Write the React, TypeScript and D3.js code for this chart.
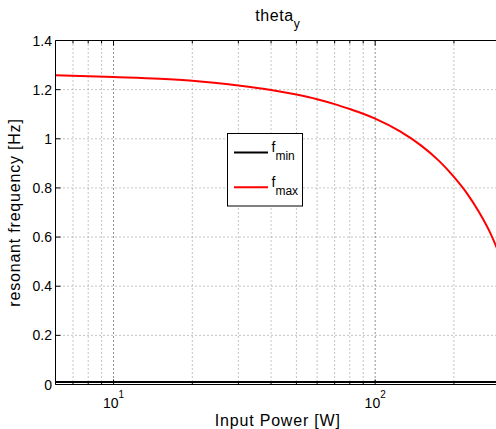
import React from "react";
import * as d3 from "d3";

const powerW = [6, 10, 15, 20, 30, 40, 50, 60, 70, 80, 90, 100, 125, 150, 175, 200, 225, 250, 275, 289, 300];
const fMax = [1.259, 1.251, 1.244, 1.236, 1.217, 1.199, 1.180, 1.161, 1.141, 1.121, 1.102, 1.082, 1.029, 0.972, 0.911, 0.845, 0.776, 0.700, 0.618, 0.566, 0.522];
const fMin = [0.01, 0.01];
const fMinX = [6, 300];
const yTicks = [0, 0.2, 0.4, 0.6, 0.8, 1, 1.2, 1.4];
const yTickLabels = ["0", "0.2", "0.4", "0.6", "0.8", "1", "1.2", "1.4"];
const xMajor = [10, 100];
const xMajorExp = ["1", "2"];
const xMinor = [7, 8, 9, 20, 30, 40, 50, 60, 70, 80, 90, 200, 300];
const legendNames = ["min", "max"];
const colors = ["#000000", "#ff0000"];

const W = 496, H = 429;
const L = 55.5, T = 40.5, R = 500, B = 384.5;

export default function App() {
  const x = d3.scaleLog().domain([6, 300]).range([L, R]);
  const y = d3.scaleLinear().domain([0, 1.4]).range([B, T]);
  const line = d3.line<[number, number]>().x(d => x(d[0])).y(d => y(d[1])).curve(d3.curveMonotoneX);
  const maxPts: [number, number][] = powerW.map((p, i) => [p, fMax[i]]);
  const minPts: [number, number][] = fMinX.map((p, i) => [p, fMin[i]]);
  const font = "'Liberation Sans', Arial, Helvetica, sans-serif";
  const cx = (L + R) / 2;
  return (
    <svg width={W} height={H} style={{ position: "absolute", left: 0, top: 0, background: "#fff" }} fontFamily={font}>
      <rect x={0} y={0} width={W} height={H} fill="#fff" />
      <defs>
        <clipPath id="plot">
          <rect x={L} y={T - 1} width={R - L} height={B - T + 2} />
        </clipPath>
      </defs>
      {/* grid */}
      {yTicks.slice(1, -1).map((t, i) => (
        <line key={"gy" + i} x1={L} x2={R} y1={y(t)} y2={y(t)} stroke="#8a8a8a" strokeWidth={1} strokeDasharray="1,3" />
      ))}
      {xMinor.map((t, i) => (
        <line key={"gxm" + i} x1={x(t)} x2={x(t)} y1={T} y2={B} stroke="#8a8a8a" strokeWidth={1} strokeDasharray="1,3" />
      ))}
      {xMajor.map((t, i) => (
        <line key={"gxM" + i} x1={x(t)} x2={x(t)} y1={T} y2={B} stroke="#222" strokeWidth={1} strokeDasharray="1,3" />
      ))}
      {/* ticks */}
      {yTicks.map((t, i) => (
        <line key={"ty" + i} x1={L} x2={L + 5} y1={y(t)} y2={y(t)} stroke="#000" />
      ))}
      {xMajor.map((t, i) => (
        <g key={"txM" + i}>
          <line x1={x(t)} x2={x(t)} y1={B} y2={B - 5} stroke="#000" />
          <line x1={x(t)} x2={x(t)} y1={T} y2={T + 5} stroke="#000" />
        </g>
      ))}
      {xMinor.map((t, i) => (
        <g key={"txm" + i}>
          <line x1={x(t)} x2={x(t)} y1={B} y2={B - 3} stroke="#000" />
          <line x1={x(t)} x2={x(t)} y1={T} y2={T + 3} stroke="#000" />
        </g>
      ))}
      {/* data */}
      <g clipPath="url(#plot)">
        <path d={line(minPts) || ""} fill="none" stroke={colors[0]} strokeWidth={2} />
        <path d={line(maxPts) || ""} fill="none" stroke={colors[1]} strokeWidth={2} />
      </g>
      {/* axes box */}
      <line x1={L} x2={W} y1={T} y2={T} stroke="#000" />
      <line x1={L} x2={W} y1={B} y2={B} stroke="#000" />
      <line x1={L} x2={L} y1={T} y2={B} stroke="#000" />
      {/* y tick labels */}
      {yTicks.map((t, i) => (
        <text key={"yl" + i} x={L - 3.5} y={y(t)} dy="0.36em" textAnchor="end" fontSize={14} fill="#000">{yTickLabels[i]}</text>
      ))}
      {/* x tick labels */}
      {xMajor.map((t, i) => (
        <text key={"xl" + i} x={x(t)} y={407.5} textAnchor="middle" fontSize={14} fill="#000">
          10<tspan dy={-10} fontSize={10}>{xMajorExp[i]}</tspan>
        </text>
      ))}
      {/* axis labels */}
      <text x={cx} y={425.5} textAnchor="middle" fontSize={16} letterSpacing={0.8} fill="#000">Input Power [W]</text>
      <text transform={`translate(20, ${(T + B) / 2}) rotate(-90)`} textAnchor="middle" fontSize={16} letterSpacing={0.8} fill="#000">resonant frequency [Hz]</text>
      <text x={cx} y={21} textAnchor="middle" fontSize={16} letterSpacing={0.6} fill="#000">theta<tspan dy={7} fontSize={12}>y</tspan></text>
      {/* legend */}
      <rect x={227.5} y={133.5} width={75} height={72.5} fill="#fff" stroke="#000" strokeWidth={1} />
      {legendNames.map((n, i) => (
        <g key={"lg" + i}>
          <line x1={234} x2={268} y1={152.5 + i * 34.7} y2={152.5 + i * 34.7} stroke={colors[i]} strokeWidth={2} />
          <text x={271.5} y={152 + i * 34.7} fontSize={14} fill="#000">f<tspan dy={8} fontSize={12}>{n}</tspan></text>
        </g>
      ))}
    </svg>
  );
}
